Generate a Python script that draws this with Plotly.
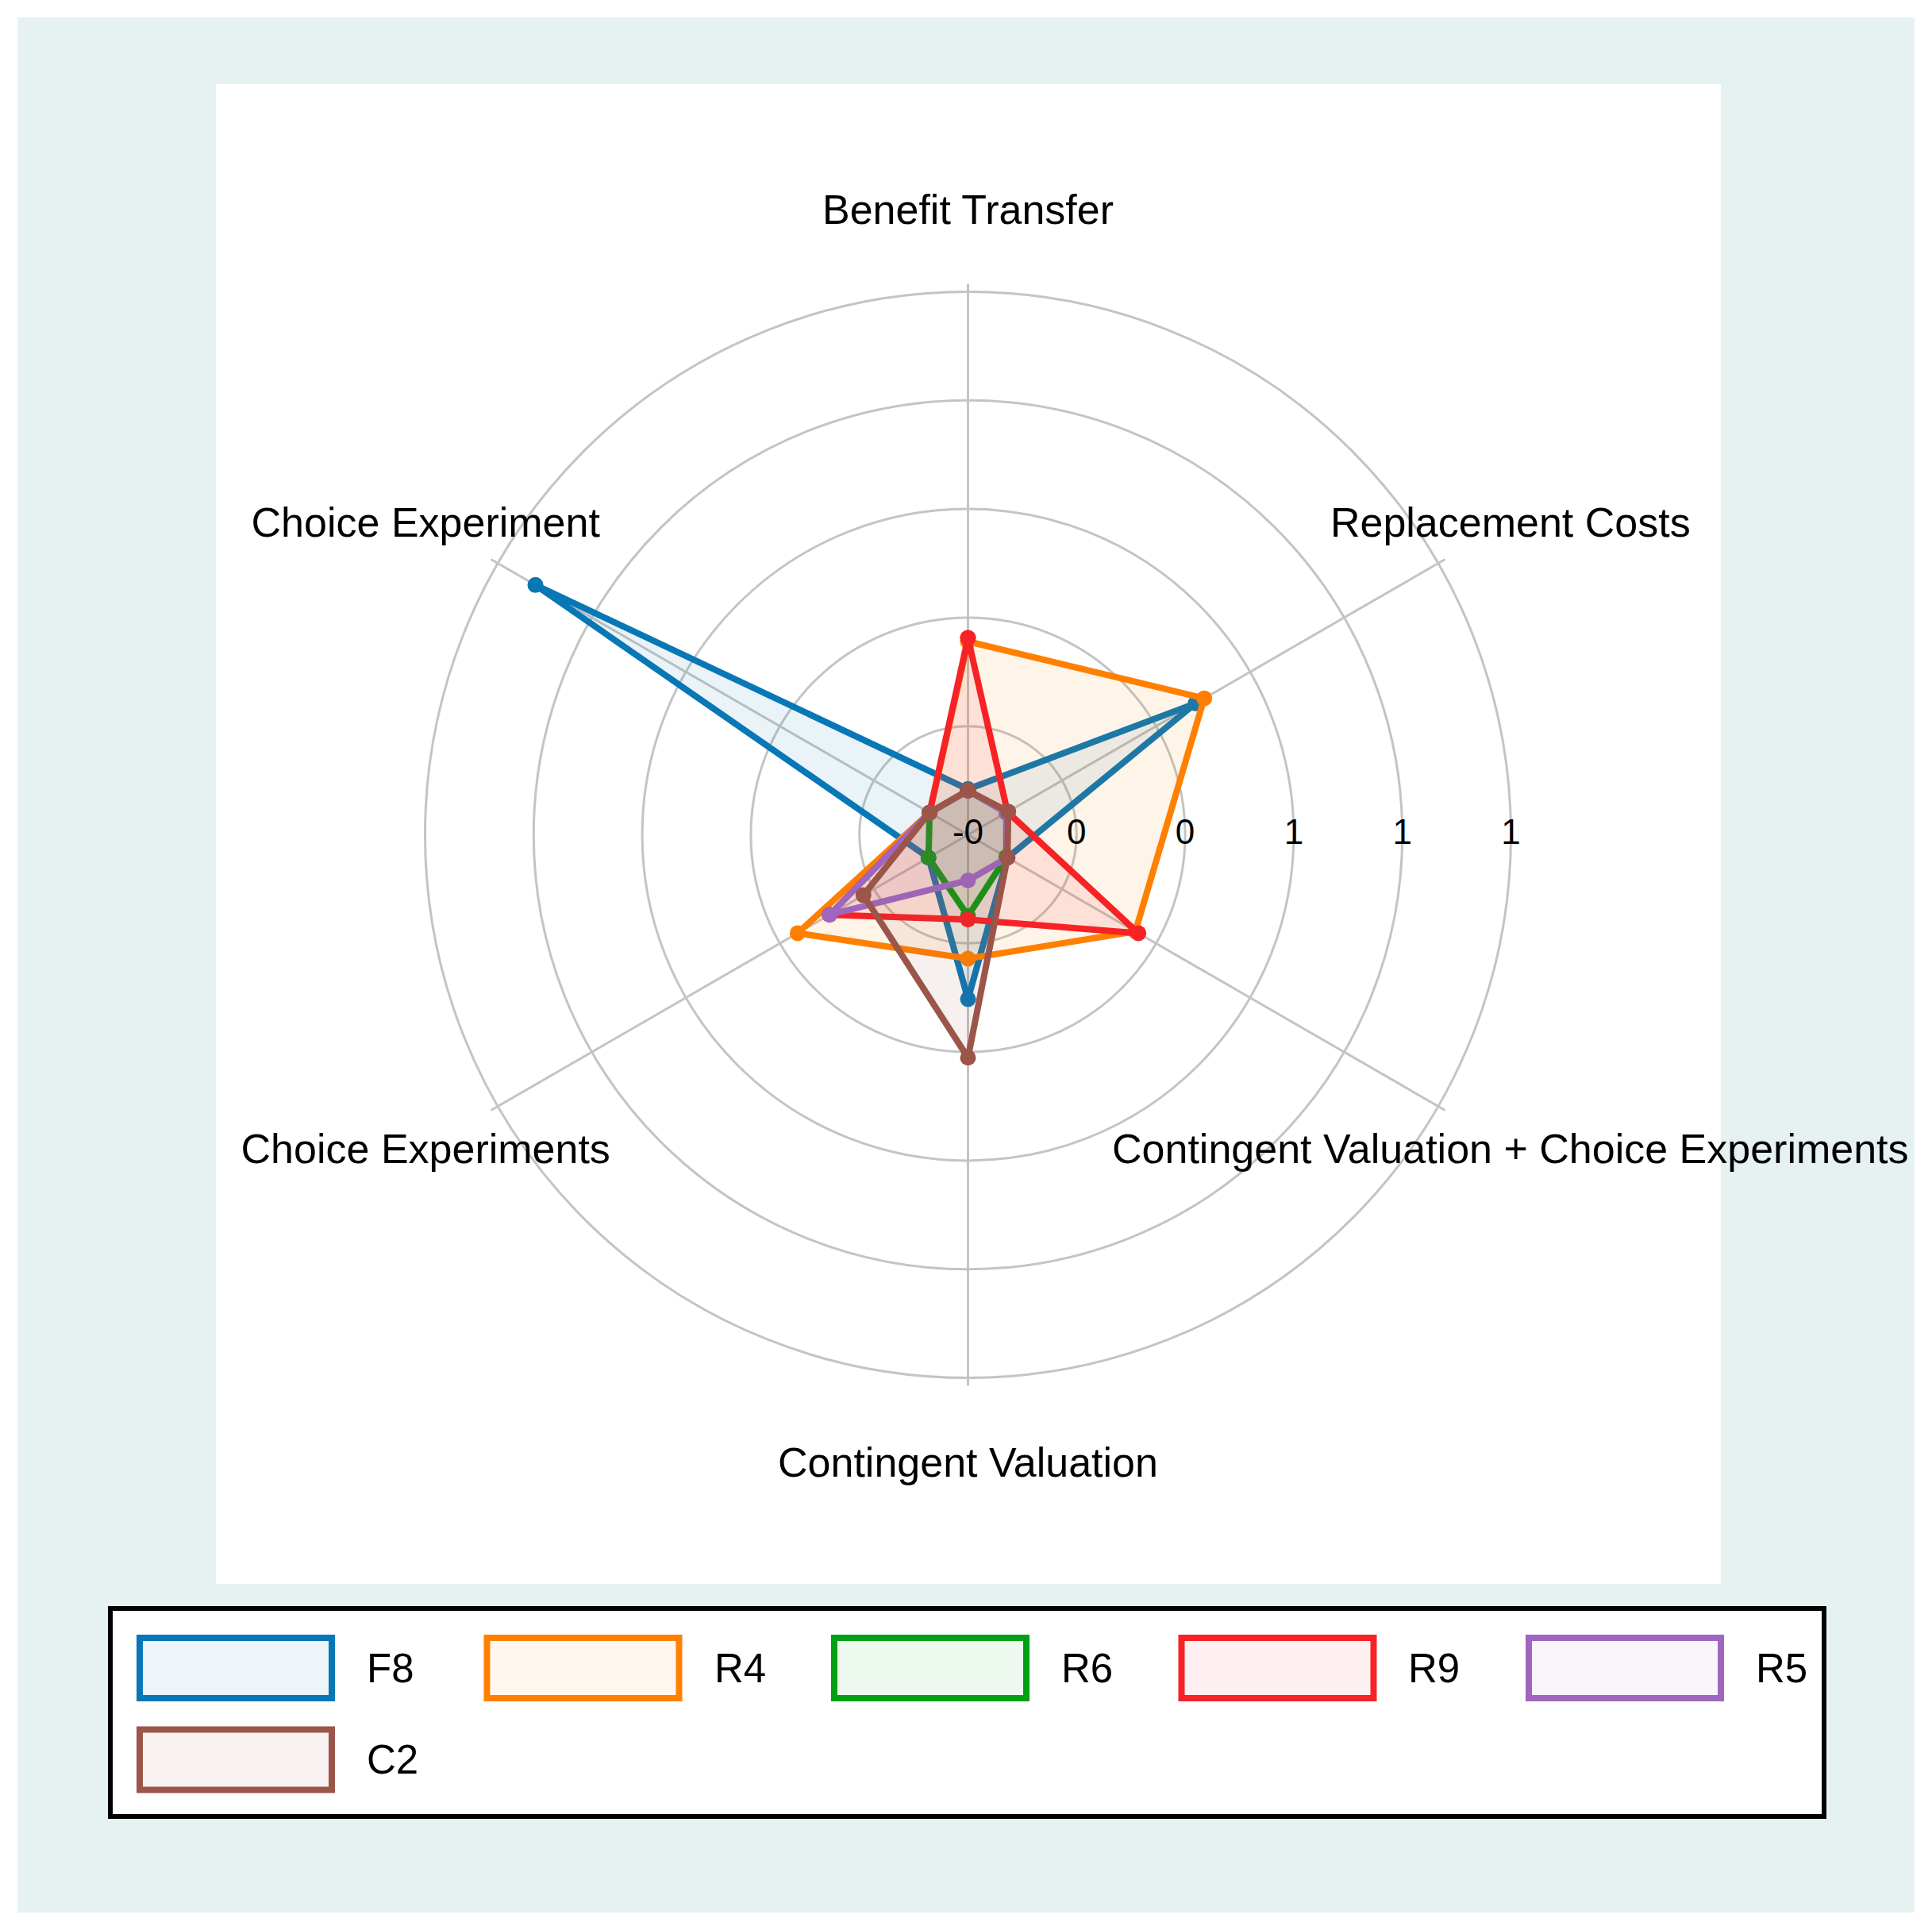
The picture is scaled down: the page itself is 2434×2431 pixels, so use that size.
import math
import plotly.graph_objects as go

# ---------------- data ----------------
categories = [
    "Benefit Transfer",
    "Replacement Costs",
    "Contingent Valuation + Choice Experiments",
    "Contingent Valuation",
    "Choice Experiments",
    "Choice Experiment",
]
series_names = ["F8", "R4", "R6", "R9", "R5", "C2"]

F8 = [-0.145, 0.355, -0.145, 0.128, -0.145, 0.900]
R4 = [0.195, 0.378, 0.195, 0.035, 0.203, -0.148]
R6 = [-0.148, -0.148, -0.148, -0.063, -0.145, -0.148]
R9 = [0.203, -0.145, 0.203, -0.055, 0.118, -0.148]
R5 = [-0.148, -0.148, -0.145, -0.145, 0.118, -0.148]
C2 = [-0.148, -0.143, -0.145, 0.263, 0.028, -0.148]

tick_values = [-0.25, 0.0, 0.25, 0.5, 0.75, 1.0]
tick_labels = ["-0", "0", "0", "1", "1", "1"]

# ---------------- styles ----------------
colors = ["#0877B6", "#FF8000", "#00A014", "#F62226", "#A066BF", "#9B5549"]
rgb = [(8, 119, 182), (255, 128, 0), (0, 160, 20), (246, 34, 38), (160, 102, 191), (155, 85, 73)]
fills = ["rgba(%d,%d,%d,0.09)" % c for c in rgb]
legend_fills = ["rgba(%d,%d,%d,0.07)" % c for c in rgb]
FONT = "Liberation Sans, Arial, Helvetica, sans-serif"
W, H = 2434, 2431
CX, CY = 1219.5, 1051.5          # polar centre (px from top-left)
RING = 136.8                      # px per radial tick step
SPOKE_PX = 694.0                  # spoke length (px)
LABEL_PX = 789.0                  # category label distance (px)
LABEL_DROP = 6.0                  # small downward nudge of labels (px)
AREA_PX = 840.0                   # radius of the polar area (px)
STEP = tick_values[1] - tick_values[0]
R_MIN = tick_values[0]
R_MAX = R_MIN + STEP * AREA_PX / RING
SPOKE_R = R_MIN + STEP * SPOKE_PX / RING

n = len(categories)
theta = [i * 360.0 / n for i in range(n)]

# label anchor positions (polar coords of points on each ray, nudged down)
label_r, label_t = [], []
for t in theta:
    a = math.radians(t)
    dx = LABEL_PX * math.sin(a)
    dy_down = -LABEL_PX * math.cos(a) + LABEL_DROP
    rp = math.hypot(dx, dy_down)
    label_r.append(R_MIN + STEP * rp / RING)
    label_t.append(math.degrees(math.atan2(dx, -dy_down)) % 360)

all_series = [F8, R4, R6, R9, R5, C2]

fig = go.Figure()

# spokes
sr, st = [], []
for t in theta:
    sr += [R_MIN, SPOKE_R, None]
    st += [t, t, None]
fig.add_trace(go.Scatterpolar(
    r=sr, theta=st, mode="lines",
    line=dict(color="#C4C4C4", width=3),
    hoverinfo="skip", showlegend=False, connectgaps=False,
))

for name, vals, col, fc in zip(series_names, all_series, colors, fills):
    fig.add_trace(go.Scatterpolar(
        r=vals + vals[:1],
        theta=theta + theta[:1],
        mode="lines+markers",
        name=name,
        fill="toself",
        fillcolor=fc,
        line=dict(color=col, width=8),
        marker=dict(color=col, size=20),
        showlegend=False,
    ))

# radial tick labels (centred on the rings, along the east direction)
fig.add_trace(go.Scatterpolar(
    r=tick_values,
    theta=[90] * len(tick_values),
    mode="text",
    text=tick_labels,
    textposition="middle center",
    textfont=dict(family=FONT, size=44, color="black"),
    cliponaxis=False,
    hoverinfo="skip",
    showlegend=False,
))

# category labels
fig.add_trace(go.Scatterpolar(
    r=label_r,
    theta=label_t,
    mode="text",
    text=categories,
    textposition="middle center",
    textfont=dict(family=FONT, size=52, color="black"),
    cliponaxis=False,
    hoverinfo="skip",
    showlegend=False,
))


def px_x(x):
    return x / W


def px_y(y):
    return 1 - y / H


shapes = []
# outer teal graph region
shapes.append(dict(type="rect", xref="paper", yref="paper", layer="below",
                   x0=px_x(22), x1=px_x(2412), y0=px_y(2409), y1=px_y(22),
                   fillcolor="#E6F1F1", line=dict(width=0)))
# white plot region
shapes.append(dict(type="rect", xref="paper", yref="paper", layer="below",
                   x0=px_x(272), x1=px_x(2168), y0=px_y(1995), y1=px_y(106),
                   fillcolor="white", line=dict(width=0)))
# legend box
shapes.append(dict(type="rect", xref="paper", yref="paper", layer="below",
                   x0=px_x(139), x1=px_x(2298), y0=px_y(2288), y1=px_y(2026),
                   fillcolor="white", line=dict(color="black", width=6)))

annotations = []
col_pitch = 437.5
row_centres = [2101, 2216.5]
for k, (name, col, fc) in enumerate(zip(series_names, colors, legend_fills)):
    row = k // 5
    c = k % 5
    left = 172 + c * col_pitch
    yc = row_centres[row]
    shapes.append(dict(type="rect", xref="paper", yref="paper", layer="above",
                       x0=px_x(left + 4), x1=px_x(left + 246),
                       y0=px_y(yc + 38), y1=px_y(yc - 38),
                       fillcolor=fc, line=dict(color=col, width=8)))
    annotations.append(dict(xref="paper", yref="paper", x=px_x(left + 288), y=px_y(yc),
                            xanchor="left", yanchor="middle", showarrow=False,
                            text=name, font=dict(family=FONT, size=51, color="black")))

fig.update_layout(
    width=W, height=H,
    margin=dict(l=0, r=0, t=0, b=0),
    paper_bgcolor="white",
    showlegend=False,
    shapes=shapes,
    annotations=annotations,
    polar=dict(
        domain=dict(x=[(CX - AREA_PX) / W, (CX + AREA_PX) / W],
                    y=[1 - (CY + AREA_PX) / H, 1 - (CY - AREA_PX) / H]),
        bgcolor="rgba(0,0,0,0)",
        angularaxis=dict(
            direction="clockwise", rotation=90, thetaunit="degrees",
            tickvals=theta, showticklabels=False, ticks="",
            showline=False, showgrid=False,
        ),
        radialaxis=dict(
            range=[R_MIN, R_MAX], tickvals=tick_values,
            showticklabels=False, ticks="", showline=False,
            gridcolor="#C4C4C4", gridwidth=3, angle=0,
        ),
    ),
)

fig.write_html("out.html", config={"displayModeBar": False},
               post_script="document.body.style.margin='0';document.body.style.overflow='hidden';")
